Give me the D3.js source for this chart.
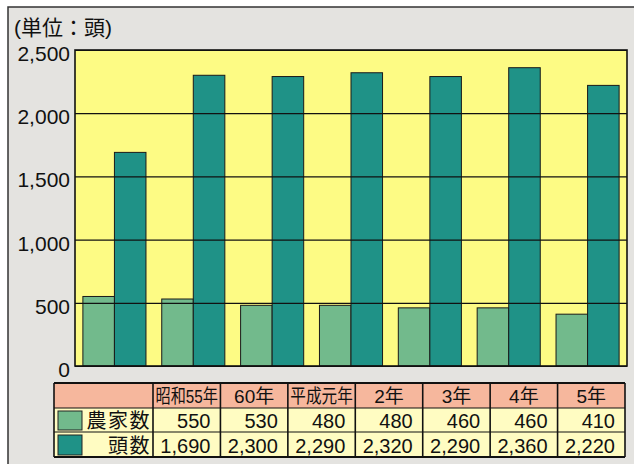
<!DOCTYPE html>
<html>
<head>
<meta charset="utf-8">
<script src="https://cdn.jsdelivr.net/npm/d3@7"></script>
<style>
  body { margin: 0; background: #fff; }
  svg { display: block; font-family: 'Liberation Sans', 'Noto Sans CJK JP', sans-serif; }
</style>
</head>
<body>
<div class="canvas"></div>
<script>
// data
const categories = ['昭和55年', '60年', '平成元年', '2年', '3年', '4年', '5年'];
const seriesNames = ['農家数', '頭数'];
const farms = [550, 530, 480, 480, 460, 460, 410];
const heads = [1690, 2300, 2290, 2320, 2290, 2360, 2220];
const yTicks = [0, 500, 1000, 1500, 2000, 2500];
const unitLabel = '(単位：頭)';

const colors = ['#72ba8c', '#1f9287'];

const width = 634;
const height = 464;

const plot = { left: 75, right: 627, top: 50, bottom: 366 };
const table = { left: 54, right: 625, top: 383, labelRight: 153, rows: [383, 408, 432, 457] };

const svg = d3.select('.canvas').append('svg')
  .attr('width', width)
  .attr('height', height);

// outer panel (frame runs off the right/bottom edges)
svg.append('rect')
  .attr('x', 8).attr('y', 7)
  .attr('width', 700).attr('height', 500)
  .attr('fill', '#e4e3e0')
  .attr('stroke', '#333')
  .attr('stroke-width', 1.5);

// scales
const x = d3.scaleBand()
  .domain(categories)
  .range([plot.left, plot.right])
  .paddingInner(0.2)
  .paddingOuter(0.1);

const xSub = d3.scaleBand()
  .domain(seriesNames)
  .range([0, x.bandwidth()]);

const y = d3.scaleLinear()
  .domain([0, 2500])
  .range([plot.bottom, plot.top]);

// plot background
svg.append('rect')
  .attr('x', plot.left).attr('y', plot.top)
  .attr('width', plot.right - plot.left)
  .attr('height', plot.bottom - plot.top)
  .attr('fill', '#fdfb84');

// bars
const rows = categories.map((c, i) => ({ cat: c, values: [farms[i], heads[i]] }));

const groups = svg.append('g').selectAll('g')
  .data(rows)
  .enter().append('g')
  .attr('transform', d => `translate(${x(d.cat)},0)`);

groups.selectAll('rect')
  .data(d => d.values.map((v, j) => ({ name: seriesNames[j], value: v, j })))
  .enter().append('rect')
    .attr('x', d => xSub(d.name))
    .attr('y', d => y(d.value))
    .attr('width', xSub.bandwidth())
    .attr('height', d => y(0) - y(d.value))
    .attr('fill', d => colors[d.j])
    .attr('stroke', '#1a1a1a')
    .attr('stroke-width', 1);

// gridlines drawn over the bars
const yAxis = d3.axisLeft(y)
  .tickValues(yTicks)
  .tickSize(-(plot.right - plot.left))
  .tickPadding(5)
  .tickFormat(d3.format(','));

const yAxisGroup = svg.append('g')
  .attr('transform', `translate(${plot.left},0)`)
  .call(yAxis);

yAxisGroup.select('.domain').remove();
yAxisGroup.selectAll('line')
  .attr('stroke', '#111')
  .attr('stroke-width', 1.2);
yAxisGroup.selectAll('text')
  .attr('font-size', 21)
  .attr('font-family', "'Liberation Sans', sans-serif")
  .attr('fill', '#111')
  .attr('dy', '0.5em');

// plot border
svg.append('rect')
  .attr('x', plot.left).attr('y', plot.top)
  .attr('width', plot.right - plot.left)
  .attr('height', plot.bottom - plot.top)
  .attr('fill', 'none')
  .attr('stroke', '#111')
  .attr('stroke-width', 1.6);

// unit label
svg.append('text')
  .attr('x', 14).attr('y', 35)
  .attr('font-size', 21)
  .attr('fill', '#111')
  .text(unitLabel);

// data table
const col = d3.scaleBand()
  .domain(categories)
  .range([table.labelRight, table.right]);

const tableG = svg.append('g');

// header row background
tableG.append('rect')
  .attr('x', table.left).attr('y', table.rows[0])
  .attr('width', table.right - table.left)
  .attr('height', table.rows[1] - table.rows[0])
  .attr('fill', '#f6b79d');

// data rows background
tableG.append('rect')
  .attr('x', table.left).attr('y', table.rows[1])
  .attr('width', table.right - table.left)
  .attr('height', table.rows[3] - table.rows[1])
  .attr('fill', '#fffcc2');

// header texts
tableG.selectAll('.head')
  .data(categories)
  .enter().append('text')
    .attr('class', 'head')
    .attr('x', d => col(d) + col.bandwidth() / 2)
    .attr('y', table.rows[1] - 5)
    .attr('text-anchor', 'middle')
    .attr('font-size', 19)
    .attr('fill', '#111')
    .text(d => d)
    .each(function () {
      // squeeze long labels into the cell
      const w = this.getComputedTextLength();
      if (w > col.bandwidth() - 5) {
        d3.select(this)
          .attr('textLength', col.bandwidth() - 5)
          .attr('lengthAdjust', 'spacingAndGlyphs');
      }
    });

// series rows
const seriesValues = [farms, heads];
const fmt = d3.format(',');

seriesNames.forEach((name, j) => {
  const top = table.rows[j + 1];
  const bottom = table.rows[j + 2];
  const base = bottom - 4;

  // swatch
  tableG.append('rect')
    .attr('x', 58).attr('y', top + 3)
    .attr('width', 24).attr('height', bottom - top - 5)
    .attr('fill', colors[j])
    .attr('stroke', '#222')
    .attr('stroke-width', 1);

  tableG.append('text')
    .attr('x', table.labelRight - 2)
    .attr('y', base)
    .attr('text-anchor', 'end')
    .attr('font-size', 20)
    .attr('letter-spacing', 1.5)
    .attr('fill', '#111')
    .text(name);

  tableG.selectAll(`.v${j}`)
    .data(seriesValues[j])
    .enter().append('text')
      .attr('class', `v${j}`)
      .attr('x', (d, i) => col(categories[i]) + col.bandwidth() - 10)
      .attr('y', base)
      .attr('text-anchor', 'end')
      .attr('font-size', 20)
      .attr('fill', '#111')
      .text(d => fmt(d));
});

// table grid lines
tableG.selectAll('.hline')
  .data(table.rows)
  .enter().append('line')
    .attr('x1', table.left).attr('x2', table.right)
    .attr('y1', d => d).attr('y2', d => d)
    .attr('stroke', '#111')
    .attr('stroke-width', (d, i) => (i === 0 || i === 3) ? 1.8 : 1.2);

const vlines = [table.left, table.labelRight].concat(categories.map(c => col(c) + col.bandwidth()));
tableG.selectAll('.vline')
  .data(vlines)
  .enter().append('line')
    .attr('x1', d => d).attr('x2', d => d)
    .attr('y1', table.rows[0]).attr('y2', table.rows[3])
    .attr('stroke', '#111')
    .attr('stroke-width', 1.6);
</script>
</body>
</html>
